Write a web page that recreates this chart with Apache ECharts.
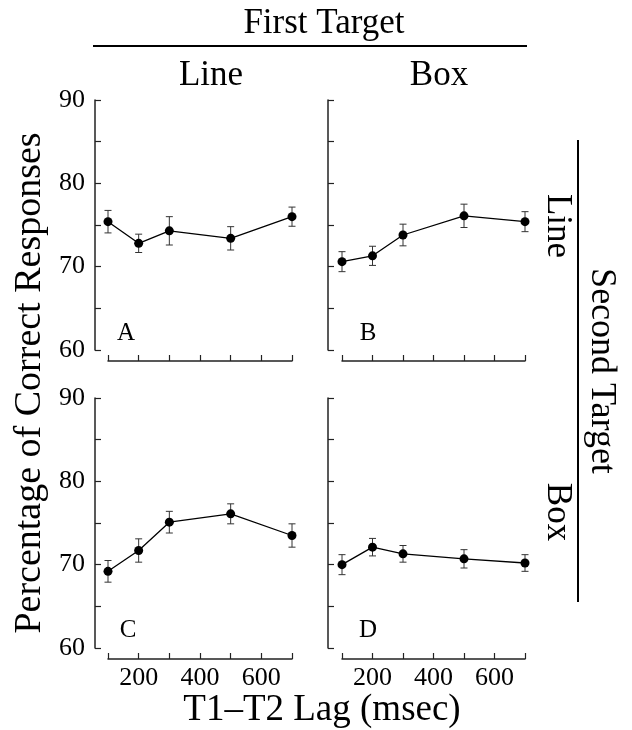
<!DOCTYPE html>
<html>
<head>
<meta charset="utf-8">
<script src="https://cdn.jsdelivr.net/npm/echarts@6/dist/echarts.min.js"></script>
<style>
html,body{margin:0;padding:0;background:#fff;}
#chart{width:632px;height:730px;}
</style>
</head>
<body>
<div id="chart"></div>
<script>
// ---- data ----
const lags = [100, 200, 300, 500, 700];
const meanA = [75.4, 72.8, 74.3, 73.4, 76.0];
const errA  = [1.35, 1.1, 1.7, 1.4, 1.15];
const meanB = [70.6, 71.3, 73.8, 76.1, 75.4];
const errB  = [1.2, 1.15, 1.3, 1.4, 1.2];
const meanC = [69.2, 71.7, 75.1, 76.1, 73.5];
const errC  = [1.3, 1.4, 1.3, 1.2, 1.4];
const meanD = [70.0, 72.1, 71.3, 70.7, 70.2];
const errD  = [1.2, 1.05, 1.0, 1.1, 1.0];
const yTickLabels = [60, 70, 80, 90];
const xTickLabels = [200, 400, 600];
const panelLetters = ['A', 'B', 'C', 'D'];

const FONT = '"Liberation Serif", "Times New Roman", "DejaVu Serif", serif';
const chart = echarts.init(document.getElementById('chart'));

const grids = [
  {left: 108, top: 100, width: 184, height: 250},
  {left: 342, top: 100, width: 183, height: 250},
  {left: 108, top: 398, width: 184, height: 250},
  {left: 342, top: 398, width: 183, height: 250}
];
const yOffsets = [13, 14, 13, 14];

const axisLine = {lineStyle: {color: '#222', width: 1.5}};
const axisTick = {inside: true, length: 6, lineStyle: {color: '#222', width: 1.2}};

const xAxes = grids.map((g, i) => ({
  type: 'value', gridIndex: i, min: 100, max: 700, interval: 100,
  offset: 11, axisLine: axisLine, axisTick: axisTick, splitLine: {show: false},
  axisLabel: {
    show: i >= 2, margin: 6, color: '#000', fontSize: 26, fontFamily: FONT,
    formatter: v => xTickLabels.indexOf(v) >= 0 ? String(v) : ''
  }
}));
const yAxes = grids.map((g, i) => ({
  type: 'value', gridIndex: i, min: 60, max: 90, interval: 5,
  offset: yOffsets[i], axisLine: axisLine, axisTick: axisTick, splitLine: {show: false},
  axisLabel: {
    show: i % 2 === 0, margin: 10, color: '#000', fontSize: 26, fontFamily: FONT,
    formatter: v => yTickLabels.indexOf(v) >= 0 ? String(v) : ''
  }
}));

function renderErr(params, api) {
  const x = api.value(0), lo = api.value(1), hi = api.value(2);
  const p1 = api.coord([x, hi]), p2 = api.coord([x, lo]);
  const w = 3.5;
  const st = {stroke: '#333', lineWidth: 1};
  return {type: 'group', children: [
    {type: 'line', shape: {x1: p1[0], y1: p1[1], x2: p2[0], y2: p2[1]}, style: st},
    {type: 'line', shape: {x1: p1[0] - w, y1: p1[1], x2: p1[0] + w, y2: p1[1]}, style: st},
    {type: 'line', shape: {x1: p2[0] - w, y1: p2[1], x2: p2[0] + w, y2: p2[1]}, style: st}
  ]};
}

const means = [meanA, meanB, meanC, meanD];
const errs = [errA, errB, errC, errD];
const series = [];
means.forEach((m, i) => {
  series.push({
    type: 'custom', xAxisIndex: i, yAxisIndex: i, renderItem: renderErr, z: 1,
    encode: {x: 0, y: [1, 2]},
    data: lags.map((l, k) => [l, m[k] - errs[i][k], m[k] + errs[i][k]])
  });
  series.push({
    type: 'line', xAxisIndex: i, yAxisIndex: i, z: 2,
    data: lags.map((l, k) => [l, m[k]]),
    symbol: 'circle', symbolSize: 9,
    itemStyle: {color: '#000'},
    lineStyle: {color: '#000', width: 1.3},
    animation: false
  });
});

function txt(x, y, s, size, rot) {
  return {
    type: 'text', x: x, y: y, rotation: rot || 0,
    style: {text: s, fontSize: size, fontFamily: FONT, fill: '#000', align: 'center', verticalAlign: 'middle'}
  };
}

const letterPos = [[126, 333], [368, 333], [128, 630], [368, 630]];
const graphic = [
  txt(324, 24, 'First Target', 35),
  {type: 'line', shape: {x1: 93, y1: 46, x2: 527, y2: 46}, style: {stroke: '#000', lineWidth: 2}},
  txt(211, 76, 'Line', 35),
  txt(439, 76, 'Box', 35),
  txt(30, 383, 'Percentage of Correct Responses', 38, Math.PI / 2),
  txt(322, 710, 'T1\u2013T2 Lag (msec)', 37),
  {type: 'line', shape: {x1: 578, y1: 140, x2: 578, y2: 602}, style: {stroke: '#000', lineWidth: 2}},
  txt(557, 226, 'Line', 35, -Math.PI / 2),
  txt(601, 371, 'Second Target', 36, -Math.PI / 2),
  txt(557, 512, 'Box', 35, -Math.PI / 2)
];
panelLetters.forEach((L, i) => graphic.push(txt(letterPos[i][0], letterPos[i][1], L, 25)));

chart.setOption({
  animation: false,
  backgroundColor: '#fff',
  grid: grids,
  xAxis: xAxes,
  yAxis: yAxes,
  series: series,
  graphic: graphic
});
</script>
</body>
</html>
